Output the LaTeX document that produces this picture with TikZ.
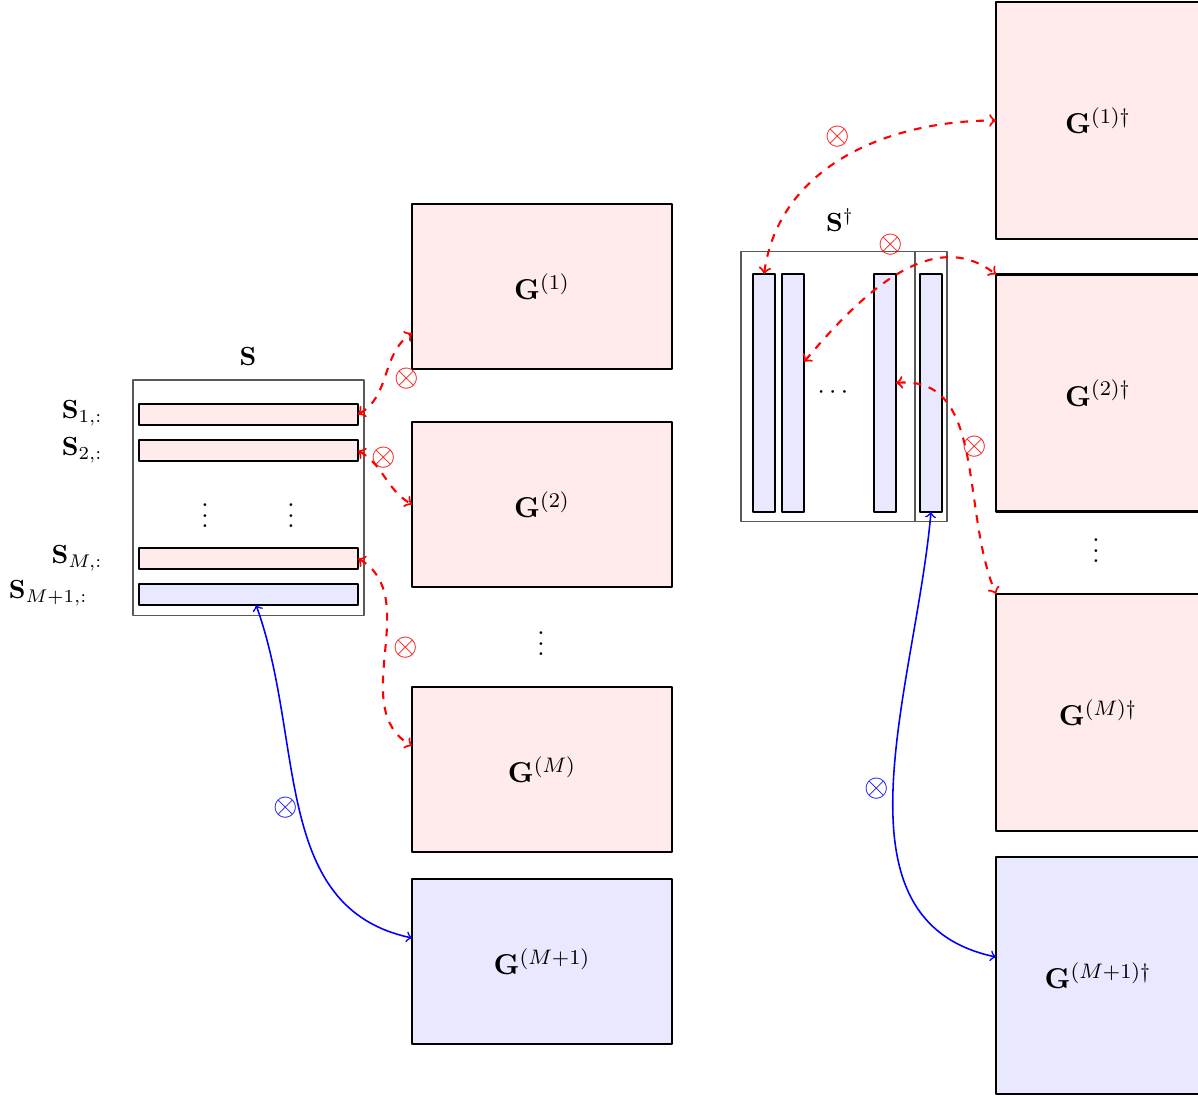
\documentclass[tikz,border=0pt]{standalone}
\usepackage{amsmath}
\begin{document}
\begin{tikzpicture}[line join=round, >=to,
		gbox/.style={draw, thick, fill=red!8, inner sep=0pt, outer sep=0pt, minimum width=3.484cm, minimum height=2.211cm, font=\fontsize{11.3}{13}\selectfont},
		gdbox/.style={gbox, minimum width=2.734cm, minimum height=3.176cm},
		frame/.style={draw=black!65, thin, inner sep=0pt, outer sep=0pt},
		row/.style={draw, thick, fill=red!8, inner sep=0pt, outer sep=0pt, minimum width=2.935cm, minimum height=0.281cm},
		col/.style={draw, thick, fill=blue!9, inner sep=0pt, outer sep=0pt, minimum width=0.295cm, minimum height=3.189cm},
		times/.style={font=\large},
		prod/.style={<->, red, thick, dashed},
		lastprod/.style={<->, blue, semithick}]
	\useasboundingbox (0,0) rectangle (16.053,14.700);
	% S and its rows
	\node[frame, minimum width=3.095cm, minimum height=3.149cm] (S) at (3.330,8.033) {};
	\node (Stitle) at (3.323,9.916) {$\mathbf{S}$};
	\node[row] (r1) at (3.330,9.146) {};
	\node[row] (r2) at (3.330,8.663) {};
	\node[row] (rM) at (3.330,7.216) {};
	\node[row, fill=blue!9] (rL) at (3.330,6.734) {};
	\node[anchor=east] (l1) at (1.50,9.166) {$\mathbf{S}_{1,:}$};
	\node[anchor=east] (l2) at (1.50,8.670) {$\mathbf{S}_{2,:}$};
	\node[anchor=east] (lM) at (1.50,7.223) {$\mathbf{S}_{M,:}$};
	\node[anchor=east] (lL) at (1.297,6.754) {$\mathbf{S}_{M+1,:}$};
	\node (vd1) at (2.747,7.893) {$\vdots$};
	\node (vd2) at (3.899,7.893) {$\vdots$};
	% G blocks
	\node[gbox] (g1) at (7.263,10.861) {$\mathbf{G}^{(1)}$};
	\node[gbox] (g2) at (7.263,7.940) {$\mathbf{G}^{(2)}$};
	\node (vdg) at (7.249,6.177) {$\vdots$};
	\node[gbox] (gM) at (7.263,4.389) {$\mathbf{G}^{(M)}$};
	\node[gbox, fill=blue!9] (gL) at (7.263,1.816) {$\mathbf{G}^{(M+1)}$};
	% S^dagger and its columns
	\node[frame, minimum width=2.332cm, minimum height=3.618cm] (Sd) at (11.095,9.527) {};
	\node[frame, minimum width=0.429cm, minimum height=3.618cm] (SdL) at (12.475,9.527) {};
	\node (Sdtitle) at (11.256,11.752) {$\mathbf{S}^{\dagger}$};
	\node[col] (c1) at (10.238,9.434) {};
	\node[col] (c2) at (10.626,9.434) {};
	\node[col] (cM) at (11.859,9.434) {};
	\node[col] (cL) at (12.475,9.434) {};
	\node (hd) at (11.189,9.444) {$\cdots$};
	% G^dagger blocks
	\node[gdbox] (gd1) at (14.713,13.085) {$\mathbf{G}^{(1)\dagger}$};
	\node[gdbox] (gd2) at (14.713,9.434) {$\mathbf{G}^{(2)\dagger}$};
	\node (vdgd) at (14.686,7.424) {$\vdots$};
	\node[gdbox] (gdM) at (14.713,5.152) {$\mathbf{G}^{(M)\dagger}$};
	\node[gdbox, fill=blue!9] (gdL) at (14.713,1.628) {$\mathbf{G}^{(M+1)\dagger}$};
	% products
	\draw[prod] (r1.east) to[out=30, in=215] ([yshift=-0.623cm]g1.west);
	\draw[prod] (r2.east) to[out=-30, in=150] (g2.west);
	\draw[prod] (rM.east) to[out=-30, in=150] ([yshift=0.315cm]gM.west);
	\draw[lastprod] ([xshift=0.1cm]rL.south) to[out=-70, in=168] ([yshift=0.315cm]gL.west);
	\draw[prod] (c1.north) to[out=82, in=180] (gd1.west);
	\draw[prod] ([yshift=0.415cm]c2.east) to[out=50, in=142] (gd2.north west);
	\draw[prod] ([yshift=0.134cm]cM.east) to[out=5, in=113] (gdM.north west);
	\draw[lastprod] (cL.south) to[out=-95, in=168] ([yshift=0.248cm]gdL.west);
	\node[times, red] (o1) at (5.454,9.621) {$\otimes$};
	\node[times, red] (o2) at (5.146,8.563) {$\otimes$};
	\node[times, red] (oM) at (5.440,6.017) {$\otimes$};
	\node[times, blue] (oL) at (3.832,3.873) {$\otimes$};
	\node[times, red] (od1) at (11.229,12.864) {$\otimes$};
	\node[times, red] (od2) at (11.939,11.417) {$\otimes$};
	\node[times, red] (odM) at (13.065,8.710) {$\otimes$};
	\node[times, blue] (odL) at (11.752,4.127) {$\otimes$};
\end{tikzpicture}
\end{document}
